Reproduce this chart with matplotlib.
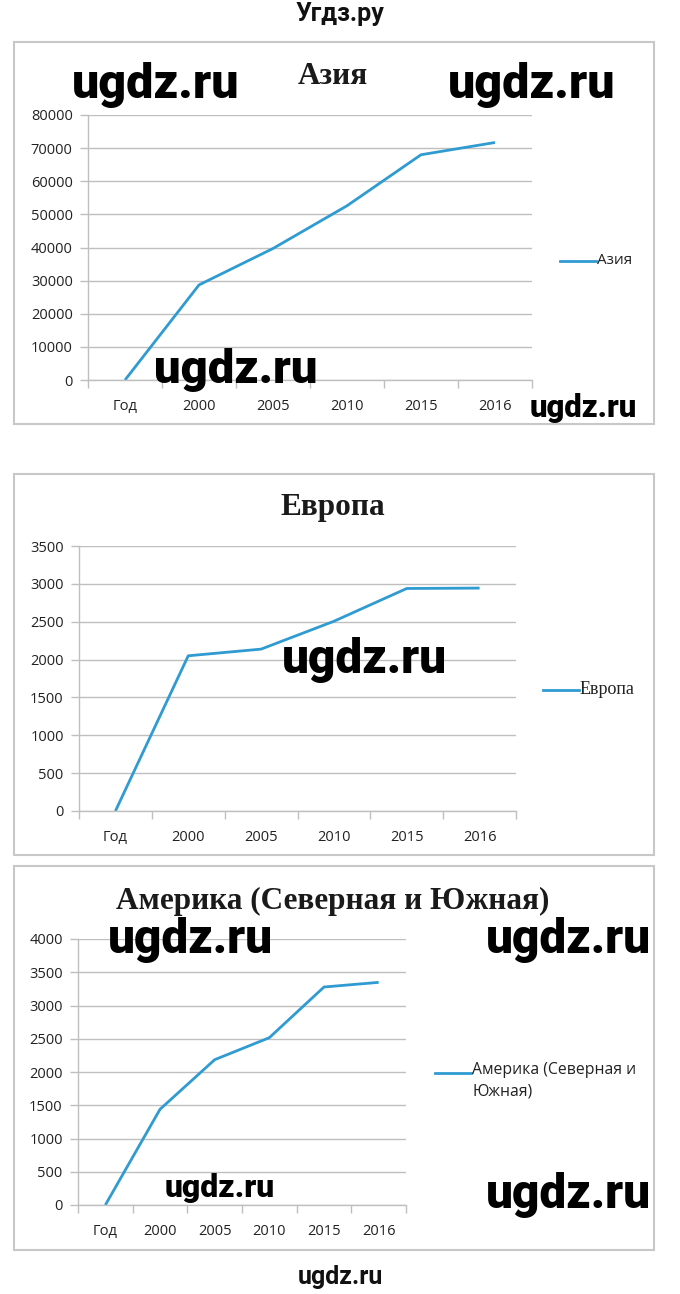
import matplotlib
matplotlib.use("Agg")
import matplotlib.pyplot as plt
from matplotlib.patches import Rectangle
from matplotlib.ticker import FixedLocator, NullFormatter

categories = ["Год", "2000", "2005", "2010", "2015", "2016"]
asia = [0, 28700, 39700, 52600, 68000, 71700]
europe = [0, 2050, 2138, 2506, 2939, 2944]
america = [0, 1439, 2185, 2516, 3278, 3348]
asia_ticks = [0, 10000, 20000, 30000, 40000, 50000, 60000, 70000, 80000]
europe_ticks = [0, 500, 1000, 1500, 2000, 2500, 3000, 3500]
america_ticks = [0, 500, 1000, 1500, 2000, 2500, 3000, 3500, 4000]

W, H = 680, 1294
fig = plt.figure(figsize=(W / 100, H / 100), dpi=100)
fig.patch.set_facecolor("white")

LINE = "#2f9bd1"
GRID = "#bfbfbf"
TICKFONT = ["Open Sans", "DejaVu Sans"]
SERIF = ["Liberation Serif", "DejaVu Serif"]
WM = ["Roboto", "DejaVu Sans"]


def fx(x):
    return x / W


def fy(y):
    return 1 - y / H


def box(x0, y0, x1, y1):
    fig.patches.append(Rectangle((fx(x0), fy(y1)), fx(x1) - fx(x0), fy(y0) - fy(y1),
                                 transform=fig.transFigure, fill=False,
                                 edgecolor="#c8c8c8", lw=1.5))


def panel(left, right, top, bottom, values, ticks, title, title_y, label,
          leg_x, leg_y, leg_font, leg_size):
    ax = fig.add_axes([fx(left), fy(bottom), fx(right) - fx(left), fy(top) - fy(bottom)])
    x = list(range(len(categories)))
    ax.plot(x, values, color=LINE, lw=2.0, solid_capstyle="butt")
    ax.set_xlim(-0.5, len(categories) - 0.5)
    ax.set_ylim(ticks[0], ticks[-1])
    ax.set_yticks(ticks)
    ax.set_yticklabels([str(t) for t in ticks], fontfamily=TICKFONT, fontsize=10.5, color="#222222")
    ax.set_xticks(x)
    ax.set_xticklabels(categories, fontfamily=TICKFONT, fontsize=10.5, color="#222222")
    ax.xaxis.set_minor_locator(FixedLocator([i - 0.5 for i in range(len(categories) + 1)]))
    ax.xaxis.set_minor_formatter(NullFormatter())
    ax.tick_params(axis="x", which="major", length=0, pad=14)
    ax.tick_params(axis="x", which="minor", length=6, color=GRID, width=1, direction="out")
    ax.tick_params(axis="y", length=6, color=GRID, width=1, pad=5)
    ax.grid(axis="y", color=GRID, lw=1)
    ax.set_axisbelow(True)
    for s in ["top", "right"]:
        ax.spines[s].set_visible(False)
    for s in ["left", "bottom"]:
        ax.spines[s].set_color(GRID)
        ax.spines[s].set_linewidth(1)
    ax.set_facecolor("none")
    fig.text(fx(333), fy(title_y), title, ha="center", va="center",
             fontfamily=SERIF, fontweight="bold", fontsize=22.5, color="#1a1a1a")
    # legend
    fig.lines.append(plt.Line2D([fx(leg_x), fx(leg_x + 36)], [fy(leg_y), fy(leg_y)],
                                transform=fig.transFigure, color=LINE, lw=2.0))
    if "\n" in label:
        fig.text(fx(leg_x + 37), fy(leg_y - 11), label, ha="left", va="top",
                 fontfamily=leg_font, fontsize=leg_size, color="#222222", linespacing=1.45)
    else:
        fig.text(fx(leg_x + 37), fy(leg_y), label, ha="left", va="center",
                 fontfamily=leg_font, fontsize=leg_size, color="#222222")
    return ax


# header/footer
fig.text(fx(340), fy(14), "Угдз.ру", ha="center", va="center", fontfamily=["Roboto", "DejaVu Sans"],
         fontweight="bold", fontsize=18, color="#111111")
fig.text(fx(340), fy(1277), "ugdz.ru", ha="center", va="center", fontfamily=["Roboto", "DejaVu Sans"],
         fontweight="bold", fontsize=18, color="#111111")

box(14, 42, 654, 424)
box(14, 474, 654, 855)
box(14, 866, 654, 1250)

panel(88, 532, 115, 380, asia, asia_ticks, "Азия", 77, "Азия", 560, 261, TICKFONT, 11)
panel(79, 516, 546, 811, europe, europe_ticks, "Европа", 507, "Европа", 543, 690, SERIF, 13)
panel(78, 406, 939, 1205, america, america_ticks, "Америка (Северная и Южная)", 901,
      "Америка (Северная и\nЮжная)", 435, 1073, TICKFONT, 11.3)

# watermarks: (center x, center y, target width in px)
renderer = fig.canvas.get_renderer()
for (wx, wy, tw) in [(156, 85, 167), (532, 85, 167), (236, 370, 163), (583, 408, 107),
                     (364, 660, 165), (190, 940, 165), (568, 940, 165), (220, 1188, 110),
                     (568, 1195, 165)]:
    t = fig.text(fx(wx), fy(wy), "ugdz.ru", ha="center", va="center", fontfamily=WM,
                 fontweight="black", fontsize=30, color="black")
    w = t.get_window_extent(renderer).width
    t.set_fontsize(30 * tw / w)

fig.savefig("out.png", dpi=100, facecolor="white")
